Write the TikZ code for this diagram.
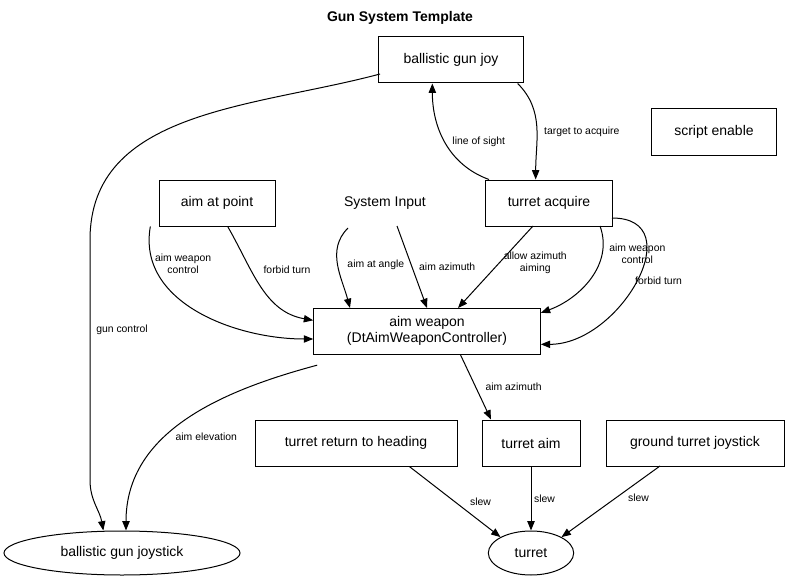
\documentclass[tikz,border=0pt]{standalone}
\usepackage{fontspec}
\setmainfont{Liberation Sans}
\usetikzlibrary{arrows.meta,shapes.geometric}
\begin{document}
\begin{tikzpicture}[x=0.75pt,y=-0.75pt,line width=0.75pt,
  box/.style={draw,rectangle,minimum height=34.5pt,inner xsep=6pt,font=\fontsize{10.5}{12}\selectfont,align=center},
  ell/.style={draw,ellipse,minimum height=33pt,inner xsep=2pt,font=\fontsize{10.5}{12}\selectfont},
  arr/.style={-{Triangle[length=7pt,width=5.5pt]}},
  lab/.style={font=\fontsize{7.8}{8.5}\selectfont,align=center,inner sep=1pt}]
\useasboundingbox (0,0) rectangle (800,585);
\node[font=\bfseries\fontsize{10.5}{12}\selectfont] (title) at (400,18) {Gun System Template};
\node[box,minimum width=108.75pt] (bgj) at (451,60) {ballistic gun joy};
\node[box,minimum width=93.75pt] (se) at (714,132) {script enable};
\node[box,minimum width=87pt] (aap) at (217,203) {aim at point};
\node[font=\fontsize{10.5}{12}\selectfont] (si) at (385,203) {System Input};
\node[box,minimum width=95pt] (ta) at (549,203) {turret acquire};
\node[box,minimum width=170pt,inner ysep=3pt] (aw) at (427,331) {aim weapon\\(DtAimWeaponController)};
\node[box,minimum width=151.5pt] (trh) at (356,443) {turret return to heading};
\node[box,minimum width=73.5pt] (tam) at (531,443) {turret aim};
\node[box,minimum width=133.5pt] (gtj) at (695,443) {ground turret joystick};
\node[ell,minimum width=177pt] (bgjs) at (122,553) {ballistic gun joystick};
\node[ell,minimum width=64pt] (tur) at (531,553) {turret};

\coordinate (c1) at (380,74);
\draw[arr] (c1) to[out=195,in=90] (90,240) -- (90,480) to[out=270,in=100] ([xshift=-14]bgjs.north);
\node[lab] at (122,330) {gun control};
\draw[arr] ([xshift=-45]ta.north) to[out=160,in=270] node[lab,pos=0.5,right=4pt]{line of sight} ([xshift=-14]bgj.south);
\draw[arr] ([xshift=50]bgj.south) to[out=-45,in=90] node[lab,pos=0.55,right=4pt]{target to acquire} ([xshift=-10]ta.north);

\draw[arr] ([xshift=-50]aap.south) to[out=260,in=180] node[lab,pos=0.18,right=0pt]{aim weapon\\control} ([yshift=-6]aw.west);
\draw[arr] ([xshift=8]aap.south) to[out=-60,in=170] node[lab,pos=0.35,right=8pt]{forbid turn} ([yshift=8]aw.west);
\draw[arr] (348,228) to[out=225,in=105] node[lab,pos=0.5,right=6pt]{aim at angle} (350,308);
\draw[arr] (397,226) -- node[lab,pos=0.5,right=4pt]{aim azimuth} (427,308);
\draw[arr] (533,226) -- node[lab,pos=0.45,right=2pt]{allow azimuth\\aiming} (458,308);
\draw[arr] (600,226) to[out=-70,in=20] node[lab,pos=0.25,right=4pt]{aim weapon\\control} ([yshift=-4]aw.north east);
\draw[arr] (612,218) to[out=0,in=0,looseness=1.4] node[lab,pos=0.5,right=-2pt]{forbid turn} ([yshift=-10]aw.east);

\draw[arr] ([yshift=-8]aw.south west) ++(4,0) to[out=195,in=90] node[lab,pos=0.6,right=6pt]{aim elevation} ([xshift=3]bgjs.north);
\draw[arr] ([xshift=25]aw.south) -- node[lab,pos=0.5,right=6pt]{aim azimuth} ([xshift=-30]tam.north);
\draw[arr] ([xshift=40]trh.south) -- node[lab,pos=0.5,right=10pt]{slew} (tur.north west);
\draw[arr] (tam.south) -- node[lab,pos=0.5,right=1pt]{slew} (tur.north);
\draw[arr] (660,466) -- node[lab,pos=0.45,right=8pt]{slew} (tur.north east);
\end{tikzpicture}
\end{document}
